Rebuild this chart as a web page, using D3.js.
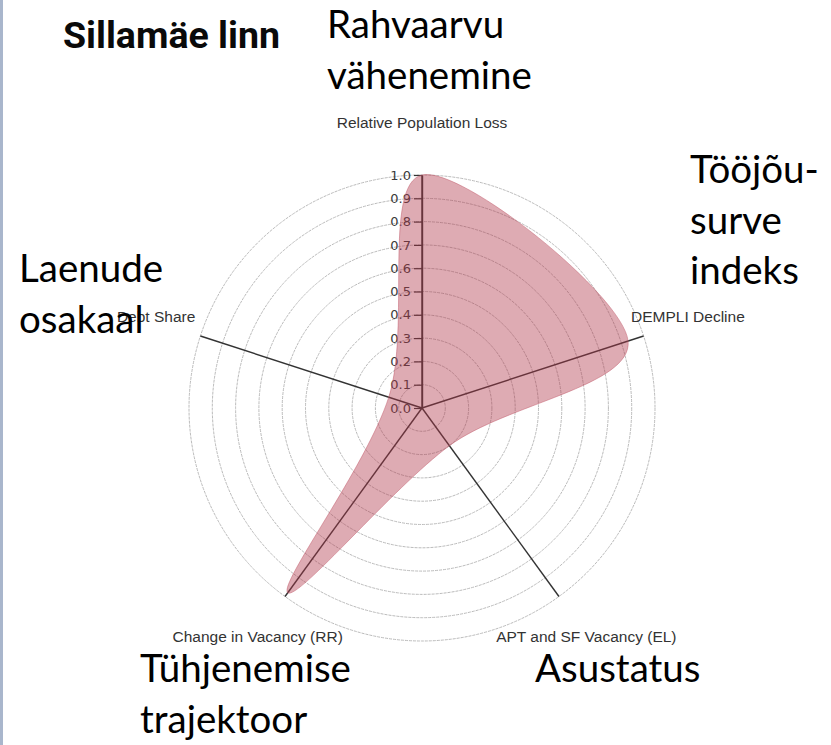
<!DOCTYPE html>
<html>
<head>
<meta charset="utf-8">
<script src="https://cdn.jsdelivr.net/npm/d3@7"></script>
<style>
  body { margin: 0; background: #fff; }
  svg { display: block; }
</style>
</head>
<body>
<div id="chart"></div>
<script>
// radar values
const axisNames = ["Relative Population Loss", "DEMPLI Decline", "APT and SF Vacancy (EL)", "Change in Vacancy (RR)", "Debt Share"];
const values = [1.0, 0.93, 0.2, 0.98, 0.15];
const tickValues = [0, 0.1, 0.2, 0.3, 0.4, 0.5, 0.6, 0.7, 0.8, 0.9, 1.0];
const title = "Sillamäe linn";
const estLabels = [
  ["Rahvaarvu", "vähenemine"],
  ["Tööjõu-", "surve", "indeks"],
  ["Asustatus"],
  ["Tühjenemise", "trajektoor"],
  ["Laenude", "osakaal"]
];

let width = 831, height = 745;
let cx = 422, cy = 408, R = 233;

const svg = d3.select("#chart").append("svg")
  .attr("width", width)
  .attr("height", height);

// left page edge
svg.append("rect")
  .attr("x", 0).attr("y", 0)
  .attr("width", 3).attr("height", height)
  .attr("fill", "#a9b6cc");

let r = d3.scaleLinear().domain([0, 1]).range([0, R]);
let angle = d3.scaleLinear().domain([0, axisNames.length]).range([0, 2 * Math.PI]);

const g = svg.append("g").attr("transform", `translate(${cx},${cy})`);

// grid circles
g.append("g")
  .selectAll("circle")
  .data(tickValues.filter(d => d > 0))
  .join("circle")
  .attr("r", d => r(d))
  .attr("fill", "none")
  .attr("stroke", "#bbb")
  .attr("stroke-width", 1)
  .attr("stroke-dasharray", "3,1");

// spokes
g.append("g")
  .selectAll("line")
  .data(axisNames)
  .join("line")
  .attr("x1", 0).attr("y1", 0)
  .attr("x2", (d, i) => r(1) * Math.sin(angle(i)))
  .attr("y2", (d, i) => -r(1) * Math.cos(angle(i)))
  .attr("stroke", "#333")
  .attr("stroke-width", 1.4);

// value axis on the first spoke
let yAxisScale = d3.scaleLinear().domain([0, 1]).range([0, -R]);
g.append("g")
  .call(d3.axisLeft(yAxisScale).tickValues(tickValues).tickFormat(d3.format(".1f")).tickSize(8).tickSizeOuter(0).tickPadding(3))
  .call(a => a.select(".domain").attr("stroke", "#333").attr("stroke-width", 1.4))
  .call(a => a.selectAll(".tick line").attr("stroke", "#333").attr("stroke-width", 1.2))
  .call(a => a.selectAll(".tick text")
    .attr("fill", "#3a3a3a")
    .style("font-family", "DejaVu Sans")
    .style("font-size", "13px"));

// area
let radial = d3.lineRadial()
  .angle((d, i) => angle(i))
  .radius(d => r(d))
  .curve(d3.curveCardinalClosed.tension(0));

g.append("path")
  .datum(values)
  .attr("d", radial)
  .attr("fill", "#b0374a")
  .attr("fill-opacity", 0.42)
  .attr("stroke", "#c46070")
  .attr("stroke-opacity", 0.5)
  .attr("stroke-width", 1);

// axis names
g.append("g")
  .selectAll("text")
  .data(axisNames)
  .join("text")
  .attr("x", (d, i) => r(1.2) * Math.sin(angle(i)))
  .attr("y", (d, i) => -r(1.2) * Math.cos(angle(i)) + Math.max(0, -Math.cos(angle(i))) * 10)
  .attr("text-anchor", "middle")
  .style("font-family", "Liberation Sans, Arial, sans-serif")
  .style("font-size", "15.5px")
  .attr("fill", "#333")
  .text(d => d);

// title
svg.append("text")
  .attr("x", 63).attr("y", 48)
  .style("font-family", "Roboto")
  .style("font-weight", 700)
  .style("font-size", "37.5px")
  .attr("fill", "#0a0a0a")
  .text(title);

// estonian overlay labels
let estPos = [[327, 38], [690, 183], [535, 682], [140, 682], [19, 282]];
estLabels.forEach((lines, i) => {
  let t = svg.append("text")
    .attr("x", estPos[i][0]).attr("y", estPos[i][1])
    .style("font-family", "Lato")
    .style("font-size", "38.5px")
    .attr("fill", "#000");
  lines.forEach((s, j) => {
    t.append("tspan")
      .attr("x", estPos[i][0])
      .attr("dy", j === 0 ? 0 : 50.5)
      .text(s);
  });
});
</script>
</body>
</html>
